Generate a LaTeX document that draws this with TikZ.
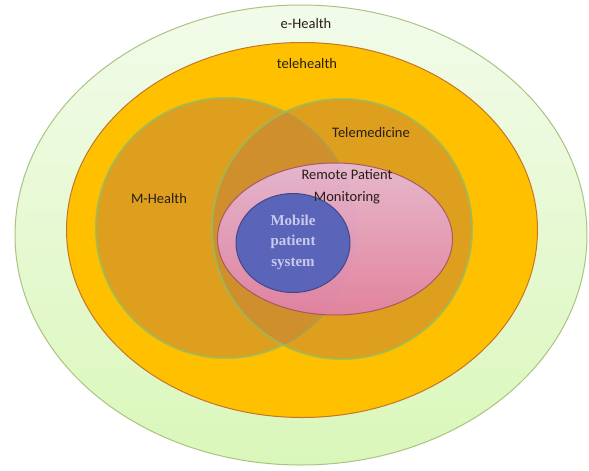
\documentclass[tikz,border=0pt]{standalone}
\usepackage{fontspec}
\setmainfont{Carlito}
\newfontfamily\serifbold{Liberation Serif}
\usetikzlibrary{shapes.geometric}
\definecolor{ehealthtop}{RGB}{242,251,234}
\definecolor{ehealthbot}{RGB}{218,247,186}
\definecolor{ehealthline}{RGB}{170,195,130}
\definecolor{teleorange}{RGB}{255,192,0}
\definecolor{teleline}{RGB}{196,118,40}
\definecolor{circfill}{RGB}{192,128,60}
\definecolor{circline}{RGB}{155,187,89}
\definecolor{rpmtop}{RGB}{232,188,232}
\definecolor{rpmbot}{RGB}{226,128,178}
\definecolor{rpmline}{RGB}{160,80,90}
\definecolor{mobfill}{RGB}{90,100,184}
\definecolor{mobline}{RGB}{62,72,140}
\definecolor{mobtext}{RGB}{202,202,238}
\definecolor{labeltext}{RGB}{40,30,20}
\begin{document}
\begin{tikzpicture}[x=1pt,y=-1pt,
	every node/.style={inner sep=0pt,outer sep=0pt},
	area/.style={ellipse,draw,line width=1pt},
	lbl/.style={font=\fontsize{14.5}{16}\selectfont,text=labeltext,align=center}]
\useasboundingbox (0,0) rectangle (589,471);
% the nested areas
\node[area,draw=ehealthline,top color=ehealthtop,bottom color=ehealthbot,
	minimum width=572pt,minimum height=460pt] (ehealth) at (301,235) {};
\node[area,draw=teleline,fill=teleorange,
	minimum width=471pt,minimum height=375pt] (telehealth) at (302,230) {};
\node[area,circle,draw=circline,line width=2pt,fill=circfill,fill opacity=0.5,
	draw opacity=0.8,minimum size=260pt] (mhealth) at (226,228) {};
\node[area,circle,draw=circline,line width=2pt,fill=circfill,fill opacity=0.5,
	draw opacity=0.8,minimum size=260pt] (telemed) at (342,229) {};
\node[area,draw=rpmline,top color=rpmtop,bottom color=rpmbot,opacity=0.86,
	minimum width=235pt,minimum height=152pt] (rpm) at (335,239) {};
\node[area,draw=mobline,fill=mobfill,
	minimum width=114pt,minimum height=99pt] (mobile) at (293,243) {};
% labels
\node[lbl] (ehealthlbl) at (306,24) {e-Health};
\node[lbl] (telehealthlbl) at (307,64) {telehealth};
\node[lbl] (mhealthlbl) at (159,199) {M-Health};
\node[lbl] (telemedlbl) at (371,133) {Telemedicine};
\node[lbl,font=\fontsize{14.5}{22}\selectfont] (rpmlbl) at (347,187) {Remote Patient\\Monitoring};
\node[align=center,text=mobtext,font=\serifbold\bfseries\fontsize{15}{20.5}\selectfont]
	(mobilelbl) at (293,242) {Mobile\\patient\\system};
\end{tikzpicture}
\end{document}
